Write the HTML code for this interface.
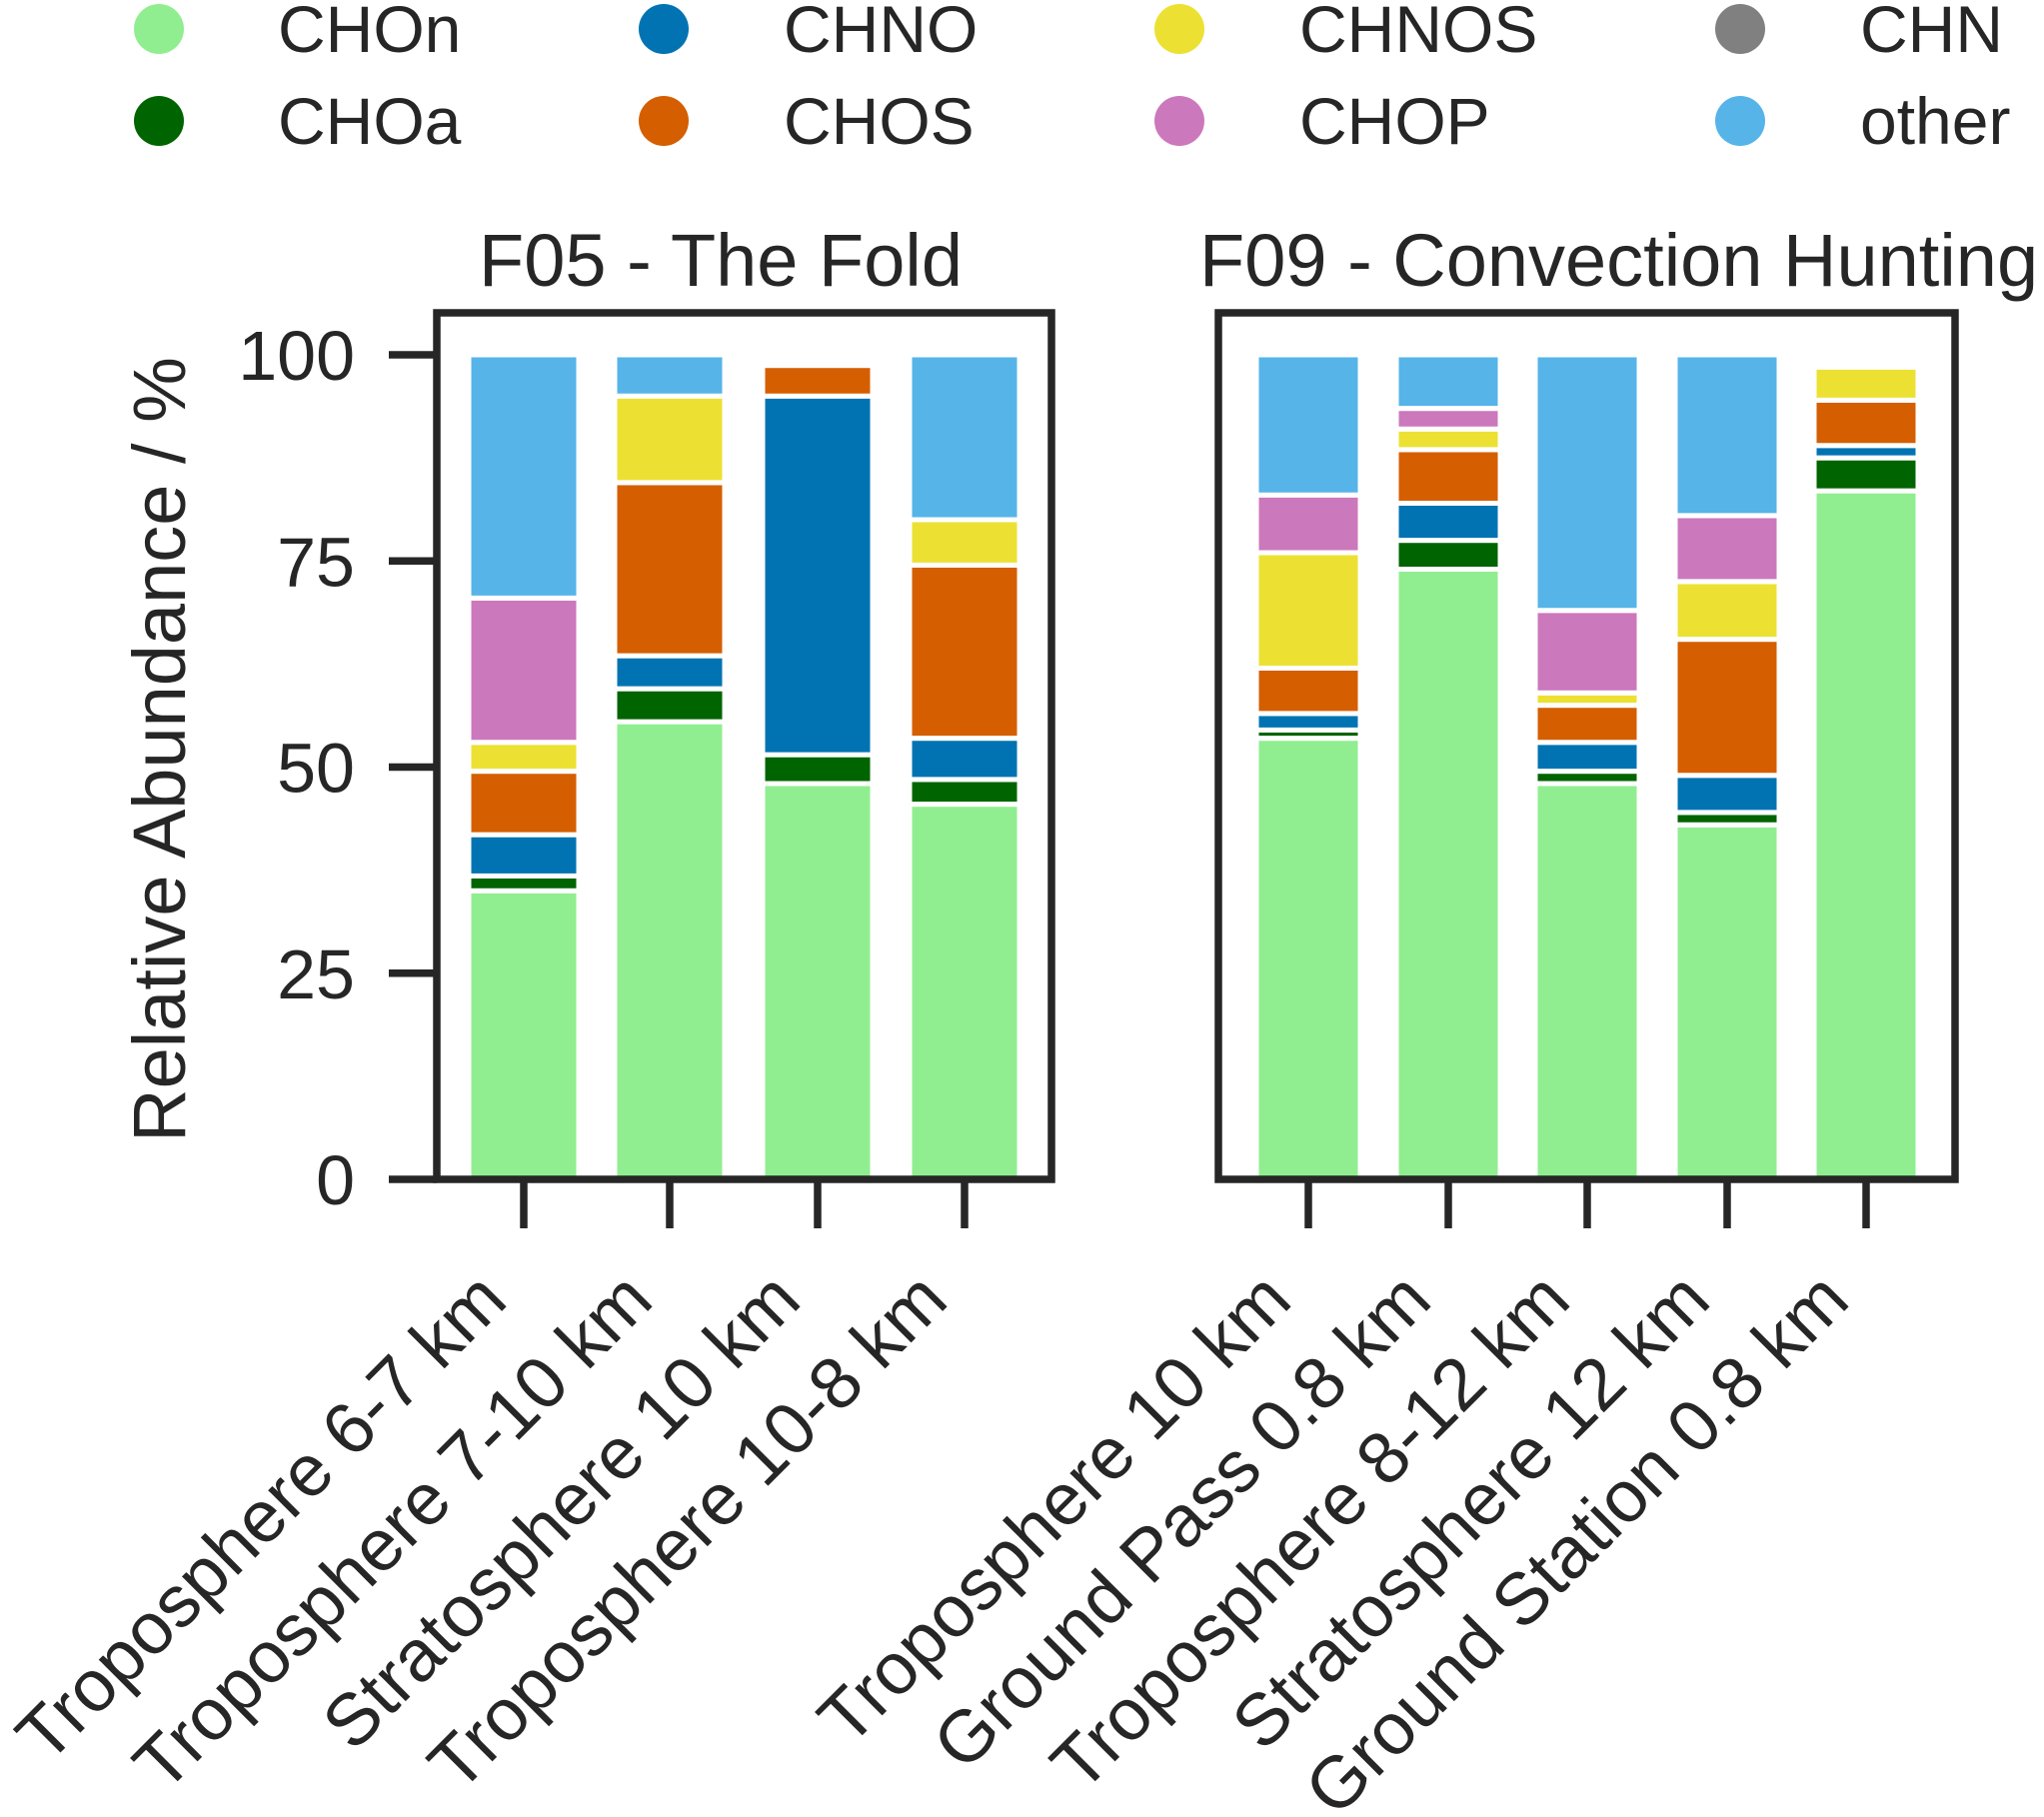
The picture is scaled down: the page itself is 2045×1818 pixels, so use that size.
<!DOCTYPE html>
<html><head><meta charset="utf-8"><style>
html,body{margin:0;padding:0;background:#fff;}
svg{display:block;}
text{font-family:"Liberation Sans",Arial,sans-serif;fill:#262626;}
</style></head><body>
<svg id="chart" width="2045" height="1818" viewBox="0 0 2045 1818" xmlns="http://www.w3.org/2000/svg">
<g id="legend"></g>
<g id="panels"></g>
</svg>
<script>
const seriesNames = ["CHOn","CHOa","CHNO","CHOS","CHNOS","CHOP","CHN","other"];
const seriesColors = ["#90ee90","#006400","#0173b2","#d55e00","#ece133","#cc78bc","#808080","#56b4e9"];
const f05Categories = ["Troposphere 6-7 km","Troposphere 7-10 km","Stratosphere 10 km","Troposphere 10-8 km"];
const f09Categories = ["Troposphere 10 km","Ground Pass 0.8 km","Troposphere 8-12 km","Stratosphere 12 km","Ground Station 0.8 km"];
const f05CHOn  = [35, 55.5, 48, 45.5];
const f05CHOa  = [1.8, 4, 3.5, 3];
const f05CHNO  = [5, 4, 43.5, 5];
const f05CHOS  = [7.7, 21, 3.7, 21];
const f05CHNOS = [3.5, 10.5, 0, 5.5];
const f05CHOP  = [17.5, 0, 0, 0];
const f05CHN   = [0, 0, 0, 0];
const f05Other = [29.5, 5, 0, 20];
const f09CHOn  = [53.5, 74, 48, 43, 83.5];
const f09CHOa  = [1, 3.5, 1.5, 1.5, 4];
const f09CHNO  = [2, 4.5, 3.5, 4.5, 1.5];
const f09CHOS  = [5.5, 6.5, 4.5, 16.5, 5.5];
const f09CHNOS = [14, 2.5, 1.5, 7, 4];
const f09CHOP  = [7, 2.5, 10, 8, 0];
const f09CHN   = [0, 0, 0, 0, 0];
const f09Other = [17, 6.5, 31, 19.5, 0];
const yTicks = [0, 25, 50, 75, 100];

const NS = "http://www.w3.org/2000/svg";
const svg = document.getElementById("chart");
function mk(tag, attrs, parent){const e=document.createElementNS(NS,tag);for(const k in attrs)e.setAttribute(k,attrs[k]);(parent||svg).appendChild(e);return e;}

const Y0 = 1180, Y100 = 355;
function yScale(v){return Y0 + (Y100 - Y0) * v / 100;}

const legend = document.getElementById("legend");
const legCx = [159, 664, 1180, 1741], legTx = [278, 784, 1300, 1861], legCy = [29, 121];
const legendOrder = [[0,1],[2,3],[4,5],[6,7]];
legendOrder.forEach((pair, col) => pair.forEach((si, row) => {
  const g = mk("g", {}, legend);
  
  
  mk("circle", {cx: legCx[col], cy: legCy[row], r: 25, fill: seriesColors[si]}, g);
  const t = mk("text", {x: legTx[col], y: legCy[row] + 23, "font-size": 66}, g);
  t.textContent = seriesNames[si];
}));

function drawPanel(name, title, titleX, titleAnchor, left, right, cats, series, centers, barW, showY){
  const g = mk("g", {}, document.getElementById("panels"));
  
  
  const tt = mk("text", {x: titleX, y: 286, "font-size": 74, "text-anchor": titleAnchor}, g);
  
  
  tt.textContent = title;
  cats.forEach((c, i) => {
    let acc = 0;
    series.forEach((arr, si) => {
      const v = arr[i];
      if (v > 0) {
        const r = mk("rect", {x: centers[i] - barW/2, y: yScale(acc + v), width: barW, height: yScale(acc) - yScale(acc + v), fill: seriesColors[si], stroke: "#fff", "stroke-width": 5}, g);
        
        
      }
      acc += v;
    });
    const tk = mk("line", {x1: centers[i], x2: centers[i], y1: Y0, y2: 1229, stroke: "#262626", "stroke-width": 7.5}, g);
    
    
    const lx = centers[i] - 14, ly = 1304;
    const lt = mk("text", {x: lx, y: ly, "font-size": 73, "text-anchor": "end", transform: `rotate(-45 ${lx} ${ly})`}, g);
    
    
    lt.textContent = c;
  });
  const fr = mk("rect", {x: left, y: 313, width: right - left, height: Y0 - 313, fill: "none", stroke: "#262626", "stroke-width": 7.5}, g);
  
  
  if (showY) {
    yTicks.forEach(v => {
      const l = mk("line", {x1: 389, x2: left, y1: yScale(v), y2: yScale(v), stroke: "#262626", "stroke-width": 7.5}, g);
      
      
      const t = mk("text", {x: 355, y: yScale(v) + 25, "font-size": 70, "text-anchor": "end"}, g);
      
      
      t.textContent = v;
    });
    const yl = mk("text", {x: 185, y: 750, "font-size": 74, "text-anchor": "middle", transform: "rotate(-90 185 750)"}, g);
    
    
    yl.textContent = "Relative Abundance / %";
  }
}
drawPanel("panel-f05", "F05 - The Fold", 721, "middle", 437, 1052, f05Categories,
  [f05CHOn,f05CHOa,f05CHNO,f05CHOS,f05CHNOS,f05CHOP,f05CHN,f05Other], [524,670,818,965], 110, true);
drawPanel("panel-f09", "F09 - Convection Hunting", 1200, "start", 1219, 1956, f09Categories,
  [f09CHOn,f09CHOa,f09CHNO,f09CHOS,f09CHNOS,f09CHOP,f09CHN,f09Other], [1309,1449,1588,1728,1867], 104, false);
</script>
</body></html>
